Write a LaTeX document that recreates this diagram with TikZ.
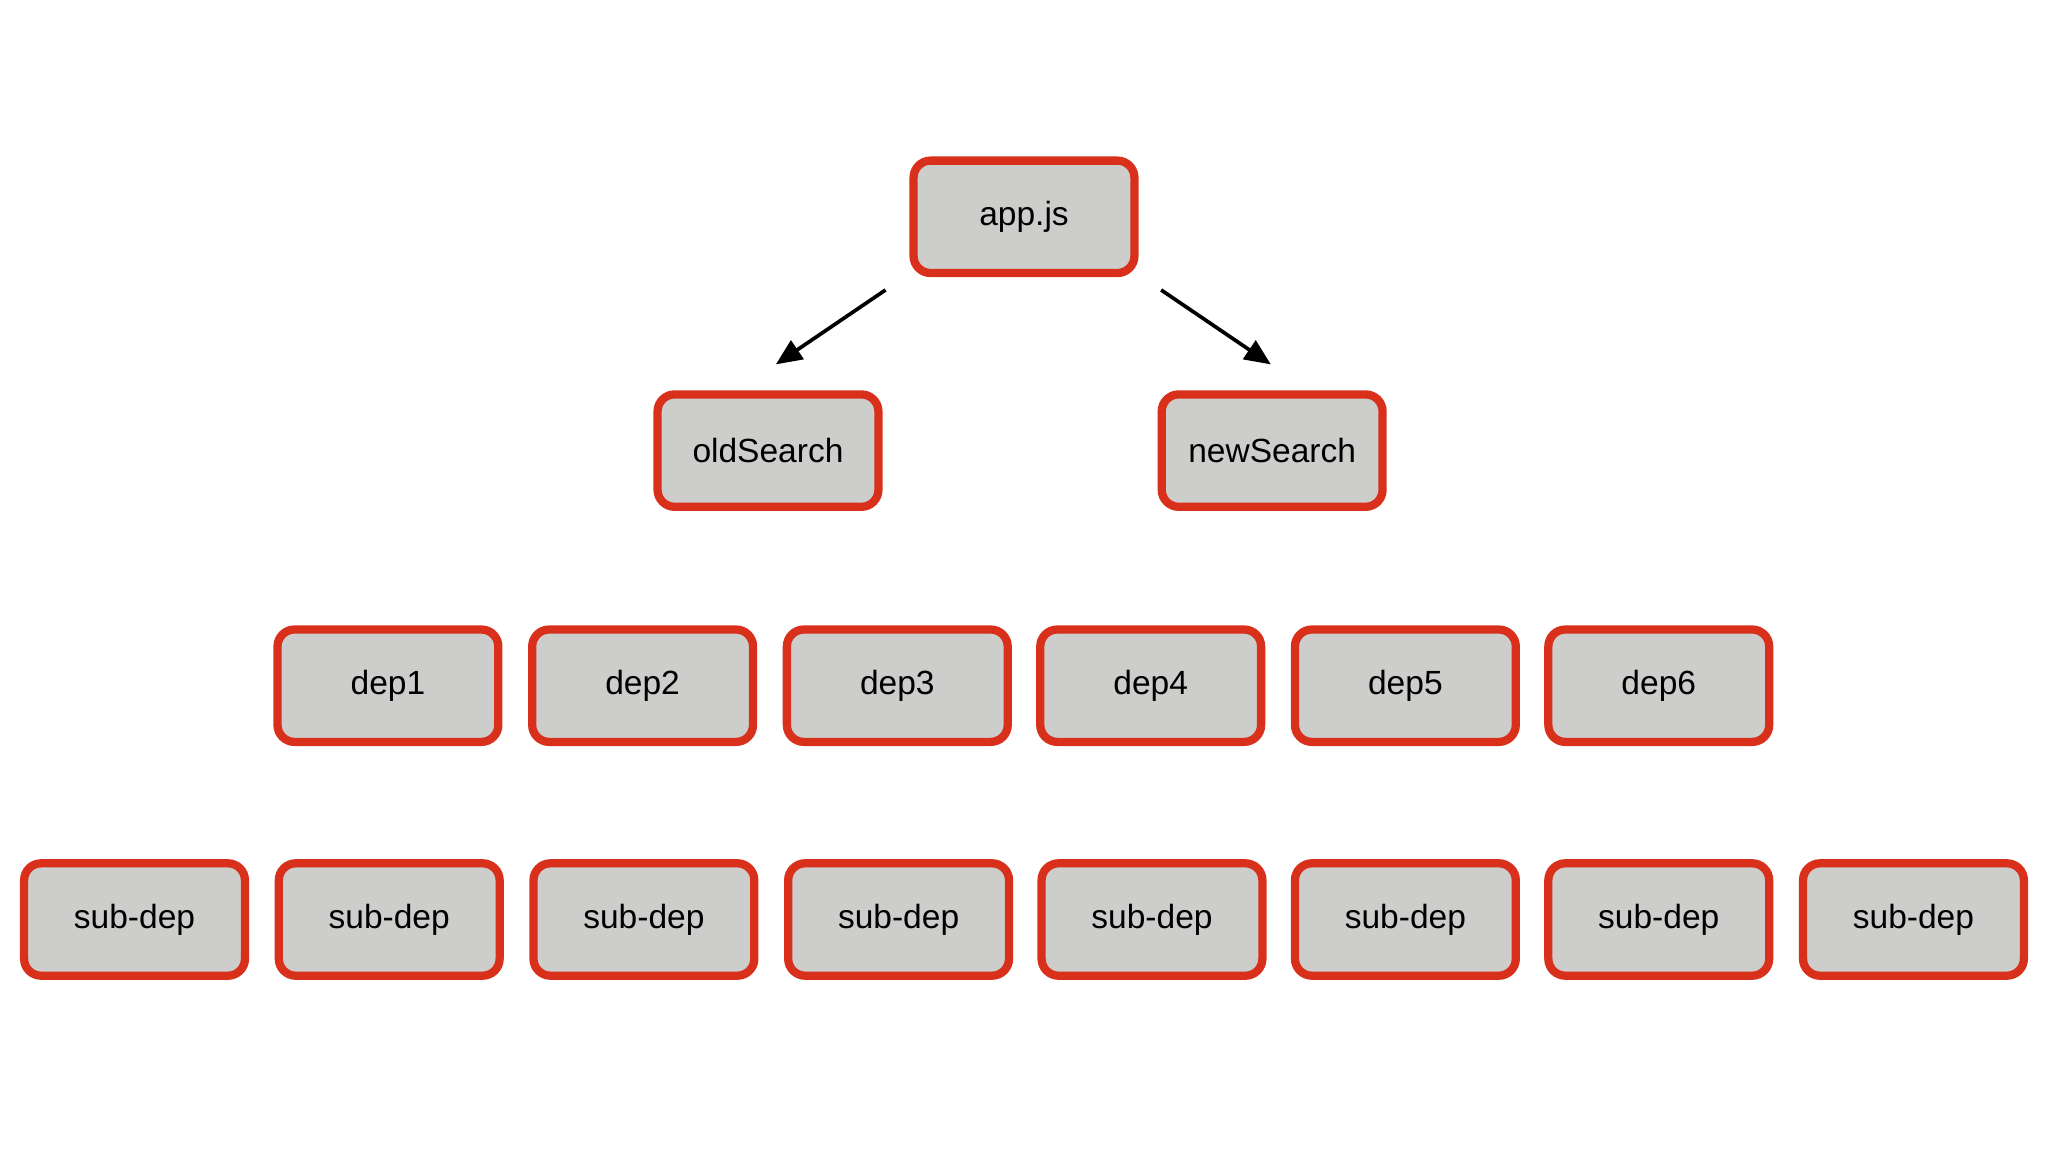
\documentclass[tikz,border=0pt]{standalone}
\usepackage{fontspec}
\setmainfont{Liberation Sans}
\usetikzlibrary{arrows.meta}
\definecolor{boxred}{HTML}{D9301C}
\definecolor{boxgray}{HTML}{CDCDCB}
\begin{document}
\begin{tikzpicture}[x=0.01cm,y=-0.01cm,
  box/.style={draw=boxred,fill=boxgray,line width=1.8pt,rounded corners=0.13cm,
    minimum width=1.69cm,minimum height=0.86cm,font=\fontsize{7.3}{8}\selectfont,inner sep=0pt},
  arr/.style={line width=0.8pt,-{Triangle[length=0.2cm,width=0.17cm]}}]
\useasboundingbox (0,0) rectangle (1568,882);
\node[box] (app) at (784,166) {app.js};
\node[box] (old) at (588,345) {oldSearch};
\node[box] (new) at (974,345) {newSearch};
\foreach \i/\x in {1/297,2/492,3/687,4/881,5/1076,6/1270}
  \node[box] (dep\i) at (\x,525) {dep\i};
\foreach \i/\x in {1/103,2/298,3/493,4/688,5/882,6/1076,7/1270,8/1465}
  \node[box] (sub\i) at (\x,704) {sub-dep};
\coordinate (a1) at (678,222); \coordinate (b1) at (594,279);
\coordinate (a2) at (889,222); \coordinate (b2) at (973,279);
\draw[arr] (a1) -- (b1);
\draw[arr] (a2) -- (b2);
\end{tikzpicture}
\end{document}
